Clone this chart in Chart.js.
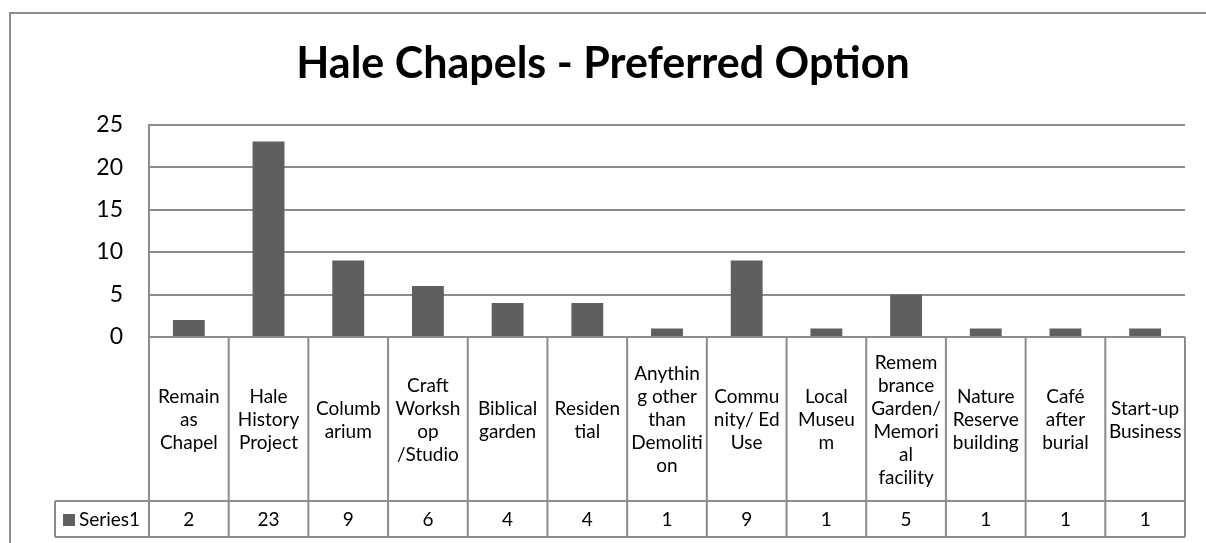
<!DOCTYPE html>
<html>
<head>
<meta charset="utf-8">
<script src="https://cdn.jsdelivr.net/npm/chart.js@4"></script>
<style>
html, body { margin: 0; padding: 0; background: #fff; }
</style>
</head>
<body>
<canvas id="barChart" width="1206" height="543"></canvas>
<script>
// data
var categories = [
	['Remain', 'as', 'Chapel'],
	['Hale', 'History', 'Project'],
	['Columb', 'arium'],
	['Craft', 'Worksh', 'op', '/Studio'],
	['Biblical', 'garden'],
	['Residen', 'tial'],
	['Anythin', 'g other', 'than', 'Demoliti', 'on'],
	['Commu', 'nity/ Ed', 'Use'],
	['Local', 'Museu', 'm'],
	['Remem', 'brance', 'Garden/', 'Memori', 'al', 'facility'],
	['Nature', 'Reserve', 'building'],
	['Café', 'after', 'burial'],
	['Start-up', 'Business']
];
var series1 = [2, 23, 9, 6, 4, 4, 1, 9, 1, 5, 1, 1, 1];
var seriesName = 'Series1';
var yMax = 25;
var yStep = 5;

var barColor = '#5f5f5f';
var lineColor = '#8c8c8c';
var fontFamily = 'Lato, "Open Sans", sans-serif';

// outer chart border
var frame = {
	id: 'frame',
	beforeDraw: function(chart)
	{
		var ctx = chart.ctx;
		ctx.save();
		ctx.strokeStyle = lineColor;
		ctx.lineWidth = 2;
		ctx.beginPath();
		ctx.moveTo(10, chart.height);
		ctx.lineTo(10, 13);
		ctx.lineTo(chart.width, 13);
		ctx.stroke();
		ctx.restore();
	}
};

// data table under the plot (category row + value row)
var dataTable = {
	id: 'dataTable',
	afterDraw: function(chart)
	{
		var ctx = chart.ctx;
		var area = chart.chartArea;
		var xs = chart.scales.x;
		var n = categories.length;
		var colW = (area.right - area.left) / n;
		var top = area.bottom;
		var headBottom = top + 164;
		var rowBottom = headBottom + 36;
		var legendLeft = 55;

		ctx.save();
		ctx.strokeStyle = lineColor;
		ctx.lineWidth = 2;
		ctx.beginPath();
		ctx.moveTo(area.left, top); ctx.lineTo(area.right, top);
		ctx.moveTo(legendLeft, headBottom); ctx.lineTo(area.right, headBottom);
		ctx.moveTo(legendLeft, rowBottom); ctx.lineTo(area.right, rowBottom);
		ctx.moveTo(legendLeft, headBottom); ctx.lineTo(legendLeft, rowBottom);
		for (var i = 0; i <= n; i++) {
			var x = (i < n) ? xs.getPixelForValue(i) - colW / 2 : area.right;
			ctx.moveTo(x, top);
			ctx.lineTo(x, rowBottom);
		}
		ctx.stroke();

		ctx.fillStyle = '#000';
		ctx.font = '19px ' + fontFamily;
		ctx.textAlign = 'center';
		ctx.textBaseline = 'middle';
		var lh = 23;
		var midHead = (top + headBottom) / 2 + 1;
		var midRow = (headBottom + rowBottom) / 2 + 1;
		for (var j = 0; j < n; j++) {
			var cx = xs.getPixelForValue(j);
			var lines = chart.data.labels[j];
			var y0 = midHead - (lines.length - 1) * lh / 2;
			for (var k = 0; k < lines.length; k++) {
				ctx.fillText(lines[k], cx, y0 + k * lh);
			}
			ctx.fillText(String(series1[j]), cx, midRow);
		}

		// legend key
		ctx.fillStyle = barColor;
		ctx.fillRect(63, midRow - 6, 12, 12);
		ctx.fillStyle = '#000';
		ctx.textAlign = 'left';
		ctx.fillText(seriesName, 79, midRow);
		ctx.restore();
	}
};

var ctx = document.getElementById('barChart').getContext('2d');

var chart = new Chart(ctx,
{
	type: 'bar',
	data:
	{
		labels: categories,
		datasets: [{
			label: seriesName,
			data: series1,
			backgroundColor: barColor,
			borderWidth: 0,
			barPercentage: 0.4,
			categoryPercentage: 1.0
		}]
	},
	options:
	{
		responsive: false,
		animation: false,
		// symmetric side padding keeps the title centred on the whole canvas
		layout: { padding: { left: 21, right: 21, top: 0, bottom: 206 } },
		plugins:
		{
			legend: { display: false },
			tooltip: { enabled: false },
			title:
			{
				display: true,
				text: 'Hale Chapels - Preferred Option',
				color: '#000',
				font: { family: fontFamily, size: 43, weight: 'bold' },
				padding: { top: 38, bottom: 35 }
			}
		},
		scales:
		{
			x: { display: false },
			y:
			{
				min: 0,
				max: yMax,
				ticks: { stepSize: yStep, color: '#000', padding: 26, font: { family: fontFamily, size: 23 } },
				grid: { color: lineColor, lineWidth: 2, drawTicks: false },
				border: { display: true, color: lineColor, width: 2 },
				afterFit: function(scale) { scale.width = 128; }
			}
		}
	},
	plugins: [frame, dataTable]
});
</script>
</body>
</html>
